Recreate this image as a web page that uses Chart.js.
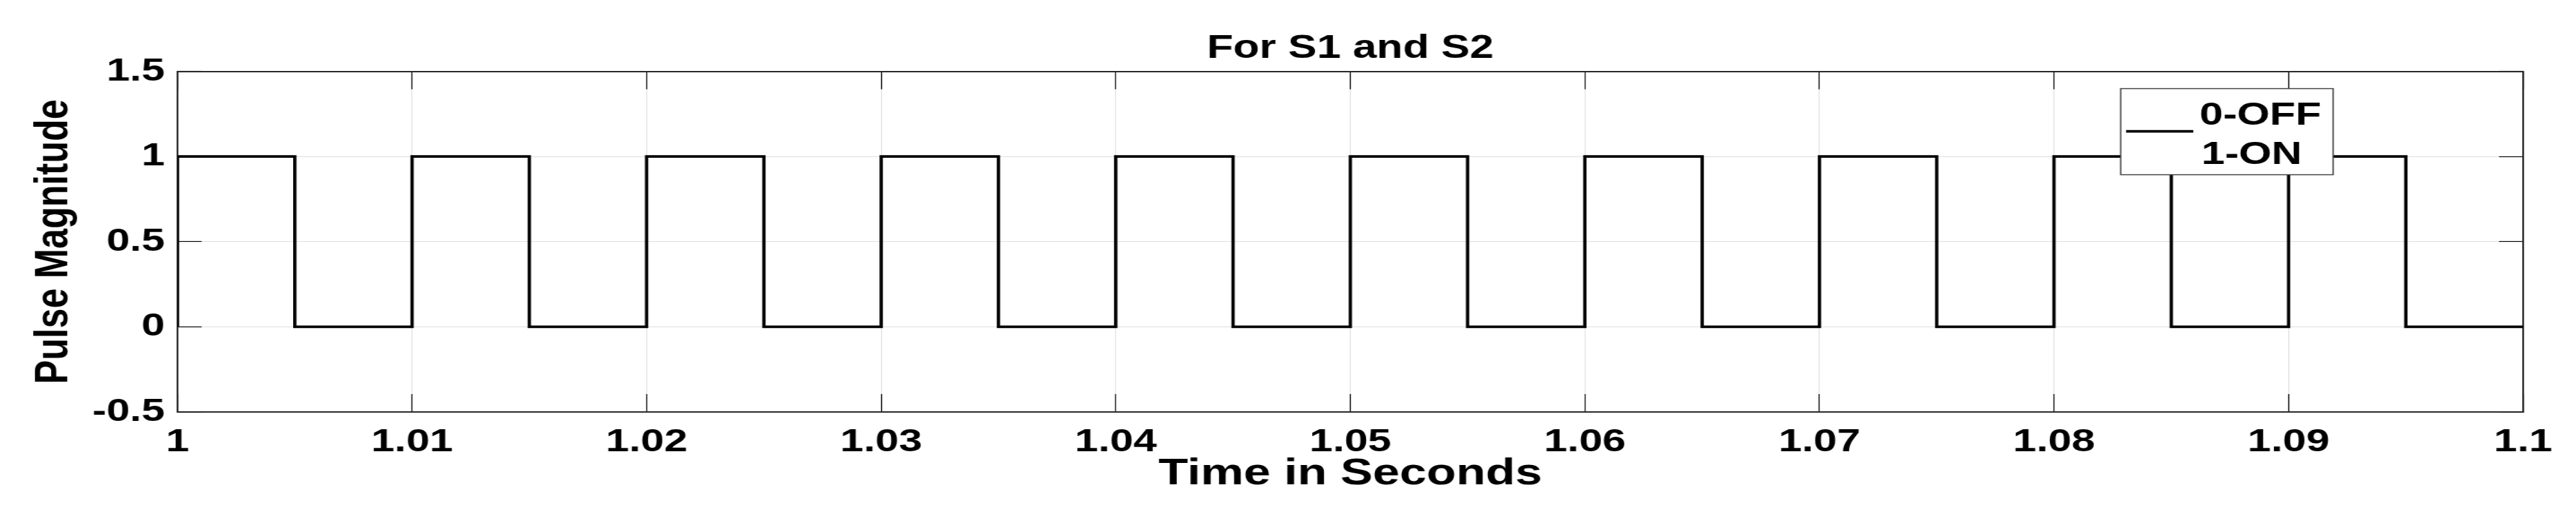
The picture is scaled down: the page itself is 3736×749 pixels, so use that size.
<!DOCTYPE html>
<html>
<head>
<meta charset="utf-8">
<script src="https://cdn.jsdelivr.net/npm/chart.js@4.4.1/dist/chart.umd.min.js"></script>
<style>
  html, body { margin: 0; padding: 0; background: #fff; overflow: hidden; }
  /* the reference figure is stretched sideways, so the chart is drawn narrower and widened */
  #wrap { width: 2874px; height: 749px; transform: scaleX(1.29993); transform-origin: 0 0; }
</style>
</head>
<body>
<div id="wrap"><canvas id="pulseChart"></canvas></div>
<script>
// switching instants (s) and the pulse level held from each instant on
const times = [1.000, 1.000, 1.005, 1.010, 1.015, 1.020, 1.025, 1.030, 1.035, 1.040, 1.045,
               1.050, 1.055, 1.060, 1.065, 1.070, 1.075, 1.080, 1.085, 1.090, 1.095, 1.100];
const pulse = [0, 1, 0, 1, 0, 1, 0, 1, 0, 1, 0,
               1, 0, 1, 0, 1, 0, 1, 0, 1, 0, 0];

const xTicks = [1, 1.01, 1.02, 1.03, 1.04, 1.05, 1.06, 1.07, 1.08, 1.09, 1.1];
const xTickLabels = ["1", "1.01", "1.02", "1.03", "1.04", "1.05", "1.06", "1.07", "1.08", "1.09", "1.1"];
const yTicks = [-0.5, 0, 0.5, 1, 1.5];
const yTickLabels = ["-0.5", "0", "0.5", "1", "1.5"];
const legendLines = ["0-OFF", "1-ON"];

const FONT = "'Liberation Sans', Arial, sans-serif";
Chart.defaults.font.family = FONT;
Chart.defaults.font.weight = "bold";
Chart.defaults.color = "#000";

const gridColor = "#dedede";
const boxColor = "#262626";

// matlab style legend: one line sample, two text rows, white box
const legendBox = {
  id: "legendBox",
  afterDatasetsDraw(chart) {
    const { ctx, chartArea: a } = chart;
    const left = a.right - 449;
    const right = a.right - 212;
    const top = a.top + 25;
    const bottom = a.top + 150;
    ctx.save();
    ctx.fillStyle = "#fff";
    ctx.fillRect(left, top, right - left, bottom - top);
    ctx.strokeStyle = "#444";
    ctx.lineWidth = 1.5;
    ctx.strokeRect(left, top, right - left, bottom - top);
    ctx.strokeStyle = "#000";
    ctx.lineWidth = 3.6;
    ctx.beginPath();
    ctx.moveTo(left + 6, top + 62);
    ctx.lineTo(left + 81, top + 62);
    ctx.stroke();
    ctx.fillStyle = "#000";
    ctx.font = "bold 47px " + FONT;
    ctx.textBaseline = "alphabetic";
    ctx.textAlign = "left";
    ctx.fillText(legendLines[0], left + 88, top + 52);
    ctx.fillText(legendLines[1], left + 90, top + 109);
    ctx.restore();
  },
};

// keep tick label overhang from squeezing the plot area
const noSidePad = (s) => { s.paddingLeft = 0; s.paddingRight = 0; };

const data = {
  datasets: [
    {
      label: legendLines.join(" "),
      data: times.map((t, i) => ({ x: t, y: pulse[i] })),
      stepped: true,
      borderColor: "#000",
      borderWidth: 3.7,
      pointRadius: 0,
      fill: false,
    },
  ],
};

const config = {
  type: "line",
  data: data,
  options: {
    responsive: true,
    maintainAspectRatio: false,
    animation: false,
    layout: { padding: { left: 0, right: 59, top: 0, bottom: 0 } },
    plugins: {
      legend: { display: false },
      tooltip: { enabled: false },
      title: {
        display: true,
        fullSize: false,
        text: "For S1 and S2",
        color: "#000",
        font: { size: 48, weight: "bold" },
        padding: { top: 42, bottom: 4 },
      },
    },
    scales: {
      x: {
        type: "linear",
        min: 1,
        max: 1.1,
        afterBuildTicks: (s) => { s.ticks = xTicks.map((v) => ({ value: v })); },
        afterFit: (s) => { s.height = 151; noSidePad(s); },
        ticks: {
          callback: (v, i) => xTickLabels[i],
          font: { size: 47, weight: "bold" },
          color: "#000",
          padding: 42,
          maxRotation: 0,
          autoSkip: false,
        },
        grid: { color: gridColor, lineWidth: 1, tickColor: "#000", tickLength: -26, tickWidth: 1.2 },
        border: { color: boxColor, width: 2 },
        title: {
          display: true,
          text: "Time in Seconds",
          color: "#000",
          font: { size: 54, weight: "bold" },
          padding: { top: 0, bottom: 28 },
        },
      },
      x2: {
        type: "linear",
        position: "top",
        min: 1,
        max: 1.1,
        afterBuildTicks: (s) => { s.ticks = xTicks.map((v) => ({ value: v })); },
        afterFit: (s) => { s.height = 0; noSidePad(s); },
        ticks: { display: false },
        grid: { drawOnChartArea: false, tickColor: "#000", tickLength: -26, tickWidth: 1.2 },
        border: { color: boxColor, width: 2 },
      },
      y: {
        type: "linear",
        min: -0.5,
        max: 1.5,
        afterBuildTicks: (s) => { s.ticks = yTicks.map((v) => ({ value: v })); },
        afterFit: (s) => { s.width = 198; },
        ticks: {
          callback: (v, i) => yTickLabels[i],
          font: { size: 47, weight: "bold" },
          color: "#000",
          padding: 41,
        },
        grid: { color: gridColor, lineWidth: 1, tickColor: "#000", tickLength: -27, tickWidth: 1.2 },
        border: { color: boxColor, width: 2 },
        title: {
          display: true,
          text: "Pulse Magnitude",
          color: "#000",
          font: { size: 52, weight: "bold" },
          padding: { top: 29, bottom: 0 },
        },
      },
      y2: {
        type: "linear",
        position: "right",
        min: -0.5,
        max: 1.5,
        afterBuildTicks: (s) => { s.ticks = yTicks.map((v) => ({ value: v })); },
        afterFit: (s) => { s.width = 0; },
        ticks: { display: false },
        grid: { drawOnChartArea: false, tickColor: "#000", tickLength: -27, tickWidth: 1.2 },
        border: { color: boxColor, width: 2 },
      },
    },
  },
  plugins: [legendBox],
};

const pulseChart = new Chart(document.getElementById("pulseChart"), config);
</script>
</body>
</html>
